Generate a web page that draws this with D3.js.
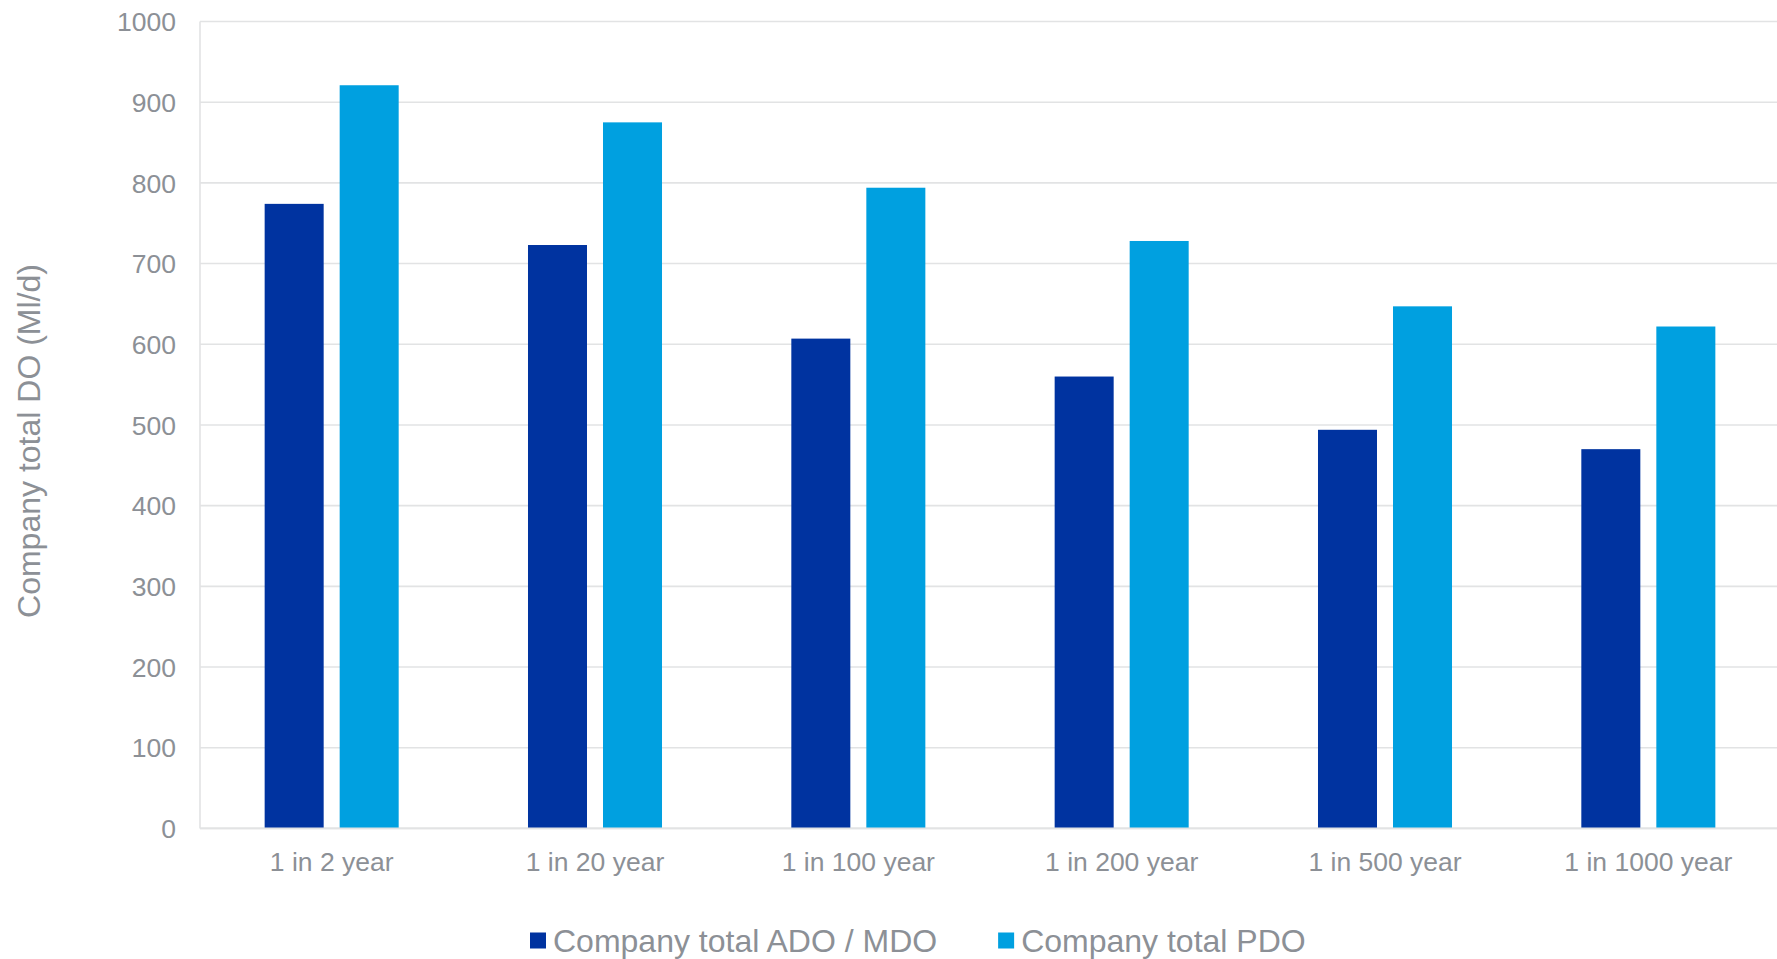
<!DOCTYPE html>
<html>
<head>
<meta charset="utf-8">
<script src="https://cdn.jsdelivr.net/npm/d3@7"></script>
<style>
  html, body { margin: 0; padding: 0; background: #ffffff; }
  svg { display: block; }
  text { font-family: "Liberation Sans", Arial, sans-serif; fill: #8c9096; }
</style>
</head>
<body>
<svg id="chart" width="1777" height="959"></svg>
<script>
// Return periods on the x axis
const categories = ["1 in 2 year", "1 in 20 year", "1 in 100 year", "1 in 200 year", "1 in 500 year", "1 in 1000 year"];
// Series values (Ml/d)
const adoMdo = [774, 723, 607, 560, 494, 470];
const pdo = [921, 875, 794, 728, 647, 622];
const seriesNames = ["Company total ADO / MDO", "Company total PDO"];
const seriesColors = ["#0033a0", "#00a0e0"];
const yTicks = [0, 100, 200, 300, 400, 500, 600, 700, 800, 900, 1000];

const svg = d3.select("#chart");
const W = 1777, H = 959;
const plot = { left: 200, right: 1780, top: 21.5, bottom: 828.4 };

const series = [adoMdo, pdo];
const rows = categories.map((c, i) => ({ cat: c, vals: series.map(s => s[i]) }));

const x0 = d3.scaleBand().domain(categories).range([plot.left, plot.right]).padding(0);
const x1 = d3.scaleBand().domain(d3.range(series.length)).range([0, x0.bandwidth()])
  .paddingInner(0.2133).paddingOuter(0.862);
const y = d3.scaleLinear().domain([0, 1000]).range([plot.bottom, plot.top]);

// Horizontal gridlines
svg.append("g")
  .selectAll("line")
  .data(yTicks)
  .join("line")
  .attr("x1", plot.left).attr("x2", W)
  .attr("y1", d => y(d)).attr("y2", d => y(d))
  .attr("stroke", "#e2e3e4").attr("stroke-width", 1.6);

// Left axis line
svg.append("line")
  .attr("x1", plot.left).attr("x2", plot.left)
  .attr("y1", plot.top).attr("y2", plot.bottom)
  .attr("stroke", "#e2e3e4").attr("stroke-width", 1.6);

// Y axis labels
const yAxis = d3.axisLeft(y).tickValues(yTicks).tickSize(0).tickPadding(0).tickFormat(d3.format("d"));
const gy = svg.append("g").attr("transform", `translate(176,0)`).call(yAxis);
gy.select(".domain").remove();
gy.selectAll("text")
  .attr("font-size", 26.5)
  .attr("fill", "#8c9096")
  .style("font-family", "'Liberation Sans', Arial, sans-serif")
  .attr("dy", "0.35em");

// Bars
const groups = svg.append("g")
  .selectAll("g")
  .data(rows)
  .join("g")
  .attr("transform", d => `translate(${x0(d.cat)},0)`);

groups.selectAll("rect")
  .data(d => d.vals.map((v, k) => ({ v, k })))
  .join("rect")
  .attr("x", d => x1(d.k))
  .attr("width", x1.bandwidth())
  .attr("y", d => y(d.v))
  .attr("height", d => y(0) - y(d.v))
  .attr("fill", d => seriesColors[d.k]);

// Bottom axis line drawn over bar bases
svg.append("line")
  .attr("x1", plot.left).attr("x2", W)
  .attr("y1", y(0)).attr("y2", y(0))
  .attr("stroke", "#e2e3e4").attr("stroke-width", 1.8);

// Category labels
const xAxis = d3.axisBottom(x0).tickSize(0).tickPadding(0);
const gx = svg.append("g").attr("transform", `translate(0,871)`).call(xAxis);
gx.select(".domain").remove();
gx.selectAll("text")
  .attr("font-size", 26.5)
  .attr("fill", "#8c9096")
  .style("font-family", "'Liberation Sans', Arial, sans-serif")
  .attr("dy", 0)
  .attr("y", 0);

// Y axis title
svg.append("text")
  .attr("transform", "translate(40,441) rotate(-90)")
  .attr("text-anchor", "middle")
  .attr("font-size", 32)
  .text("Company total DO (Ml/d)");

// Legend
const legend = svg.append("g");
let lx = 530;
seriesNames.forEach((name, k) => {
  legend.append("rect")
    .attr("x", lx).attr("y", 932.5)
    .attr("width", 16).attr("height", 16)
    .attr("fill", seriesColors[k]);
  const t = legend.append("text")
    .attr("x", lx + 23).attr("y", 952)
    .attr("font-size", 32)
    .text(name);
  lx += 23 + t.node().getComputedTextLength() + 61;
});
</script>
</body>
</html>
